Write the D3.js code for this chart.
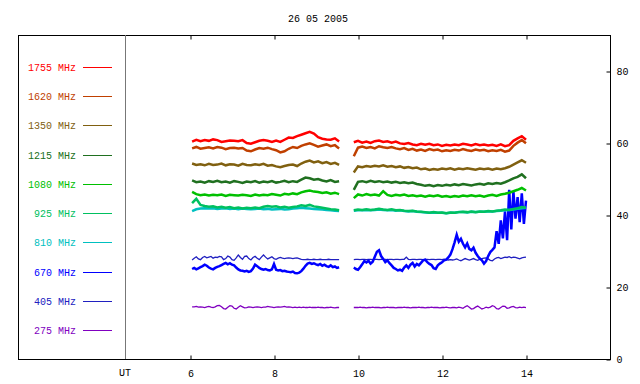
<!DOCTYPE html>
<html>
<head>
<meta charset="utf-8">
<script src="https://cdn.jsdelivr.net/npm/d3@7"></script>
<style>
  html, body { margin: 0; padding: 0; background: #fff; }
  svg { display: block; }
  text { font-family: "Liberation Mono", "DejaVu Sans Mono", monospace; font-size: 10px; }
</style>
</head>
<body>
<svg id="chart" width="640" height="384"></svg>
<script>
/* Radio flux records, 26 05 2005 – one line per frequency */

const TITLE = '26 05 2005';
const FREQS  = ['1755', '1620', '1350', '1215', '1080', '925', '810', '670', '405', '275'];
const COLORS = ['#ff0000', '#c04000', '#806010', '#207020', '#00c000', '#00c060', '#00c0c0', '#0000ff', '#2020c0', '#8000c0'];
const HOUR_TICKS = [6, 8, 10, 12, 14];
const Y_TICKS = [0, 20, 40, 60, 80];

// sampling clocks (UT hours) for the two recording runs
const coarseA = d3.range(36).map(i => 6.05 + i * 0.1);
const coarseB = d3.range(42).map(i => 9.9 + i * 0.1);
const fineA   = d3.range(71).map(i => 6.05 + i * 0.05);
const fineB   = d3.range(83).map(i => 9.9 + i * 0.05);

// --- coarse series, run A (6.05 .. 9.55) ---
const f1755a = [60.4, 60.9, 60.5, 60.8, 60.6, 61.0, 60.8, 60.3, 60.5, 60.7,
                60.6, 60.5, 60.8, 60.0, 59.8, 60.2, 60.6, 60.8, 60.6, 60.3,
                60.7, 60.3, 60.9, 61.5, 61.4, 61.9, 62.3, 62.7, 63.1, 62.6,
                61.6, 61.2, 61.0, 60.9, 61.3, 60.4];
const f1620a = [58.5, 58.9, 58.4, 58.6, 58.8, 58.5, 58.9, 58.7, 58.3, 58.6,
                58.7, 58.5, 58.6, 57.9, 57.7, 58.2, 58.6, 58.4, 58.7, 58.3,
                58.0, 57.4, 57.7, 58.4, 58.9, 58.6, 59.2, 59.6, 59.9, 59.5,
                59.0, 59.3, 59.6, 59.1, 59.4, 58.5];
const f1350a = [54.3, 53.9, 54.1, 53.8, 54.2, 53.9, 54.0, 54.3, 53.8, 54.1,
                54.0, 53.7, 54.2, 53.9, 53.8, 54.1, 53.9, 54.2, 53.7, 53.9,
                53.5, 53.3, 53.6, 53.9, 54.0, 53.6, 54.3, 54.8, 55.1, 54.6,
                54.9, 54.4, 54.7, 54.2, 54.5, 53.9];
const f1215a = [49.6, 49.1, 49.3, 49.0, 49.4, 49.2, 49.5, 49.1, 49.3, 49.0,
                49.4, 49.2, 48.9, 49.3, 49.1, 49.4, 49.0, 49.3, 49.1, 49.4,
                49.0, 49.2, 49.5, 49.1, 49.4, 49.2, 49.8, 50.4, 50.2, 49.8,
                50.0, 49.6, 49.3, 49.7, 49.2, 49.4];
const f1080a = [46.4, 45.8, 45.5, 45.7, 45.4, 45.6, 45.5, 45.7, 45.3, 45.6,
                45.5, 45.4, 45.6, 45.5, 45.3, 45.7, 45.4, 45.6, 45.5, 45.8,
                45.6, 45.4, 45.9, 45.7, 46.0, 45.8, 46.3, 46.6, 46.8, 46.5,
                46.4, 46.1, 46.3, 45.9, 46.2, 45.8];
const f925a  = [43.3, 44.5, 42.8, 42.5, 42.3, 42.4, 42.1, 42.3, 42.0, 42.2,
                41.9, 42.1, 41.8, 42.0, 41.9, 42.1, 41.9, 42.3, 42.5, 42.3,
                42.4, 42.1, 42.3, 42.0, 42.2, 42.4, 42.7, 42.5, 42.8, 42.4,
                42.2, 42.0, 41.8, 41.6, 41.5, 41.3];
const f810a  = [41.1, 41.6, 41.8, 41.9, 41.8, 41.9, 41.7, 41.8, 41.9, 41.7,
                41.8, 41.6, 41.8, 41.7, 41.6, 41.7, 41.8, 41.6, 41.7, 41.5,
                41.6, 41.7, 41.5, 41.6, 41.8, 41.9, 42.0, 41.9, 41.8, 41.7,
                41.6, 41.5, 41.4, 41.3, 41.2, 41.1];

// --- coarse series, run B (9.9 .. 14.0) ---
const f1755b = [60.2,
                60.6, 60.1, 60.4, 60.0, 60.5, 60.7, 60.3, 60.5, 60.1, 60.4,
                59.9, 59.7, 60.0, 59.6, 59.4, 59.8, 59.5, 59.8, 59.4, 59.6,
                59.2, 59.5, 59.3, 59.6, 59.4, 59.8, 59.6, 59.3, 59.7, 59.4,
                59.6, 59.3, 59.5, 59.2, 59.6, 59.1, 59.4, 60.6, 61.3, 61.9,
                60.9];
const f1620b = [56.3,
                58.7, 59.0, 58.6, 58.9, 58.5, 59.1, 58.8, 58.6, 58.9, 58.5,
                58.3, 58.6, 58.1, 58.4, 57.9, 58.2, 57.8, 58.3, 58.0, 58.2,
                57.7, 58.0, 57.8, 58.1, 57.9, 58.3, 58.0, 57.8, 58.2, 57.9,
                58.1, 57.7, 58.0, 57.8, 58.1, 57.6, 57.9, 59.2, 60.1, 60.8,
                59.9];
const f1350b = [51.8,
                53.5, 53.3, 53.6, 53.4, 53.7, 53.5, 53.8, 53.4, 53.6, 53.3,
                53.5, 53.1, 53.3, 53.0, 53.2, 52.7, 52.9, 52.5, 52.8, 52.6,
                52.9, 52.7, 53.0, 52.6, 52.9, 52.7, 53.0, 52.8, 52.6, 52.9,
                52.7, 52.9, 52.6, 52.9, 52.7, 53.0, 53.4, 54.0, 54.6, 55.2,
                54.5];
const f1215b = [47.0,
                49.2, 49.4, 49.1, 49.5, 49.2, 49.4, 49.1, 49.3, 49.0, 49.2,
                48.9, 49.1, 48.8, 49.0, 48.6, 48.4, 48.1, 48.3, 48.0, 48.3,
                48.1, 48.4, 48.2, 48.5, 48.3, 48.6, 48.4, 48.2, 48.5, 48.7,
                48.4, 48.8, 48.6, 48.9, 48.7, 49.1, 49.6, 50.2, 50.6, 51.3,
                50.2];
const f1080b = [44.7,
                45.7, 45.4, 45.8, 45.5, 45.7, 45.4, 46.6, 45.6, 45.3, 45.6,
                45.4, 45.7, 45.3, 45.5, 45.2, 45.4, 45.1, 45.4, 45.2, 45.5,
                45.1, 45.3, 45.0, 45.3, 45.1, 45.4, 45.2, 45.5, 45.2, 45.4,
                45.1, 45.4, 45.6, 45.3, 45.7, 45.9, 46.2, 46.6, 47.0, 47.5,
                46.8];
const f925b  = [41.3,
                41.5, 41.4, 41.6, 41.4, 41.5, 41.7, 41.5, 41.4, 41.6, 41.3,
                41.4, 41.2, 41.1, 41.2, 41.0, 40.9, 40.8, 40.6, 40.8, 40.6,
                40.7, 40.5, 40.7, 40.6, 40.8, 40.9, 40.8, 41.0, 40.8, 41.0,
                40.9, 41.1, 41.0, 41.2, 41.3, 41.5, 41.4, 41.7, 41.9, 42.2,
                42.0];
const f810b  = [41.2,
                41.3, 41.3, 41.4, 41.3, 41.4, 41.5, 41.4, 41.3, 41.4, 41.2,
                41.3, 41.1, 41.0, 41.1, 40.9, 40.8, 40.7, 40.6, 40.7, 40.6,
                40.6, 40.5, 40.6, 40.6, 40.8, 40.8, 40.7, 40.9, 40.8, 40.9,
                40.9, 41.0, 41.0, 41.1, 41.2, 41.3, 41.4, 41.5, 41.7, 41.9,
                42.0];

// --- fine series, run A (6.05 .. 9.55, every 0.05 h) ---
const f670a = [25.0, 25.3, 24.9, 25.2, 25.5, 25.8, 26.2, 25.9, 25.4, 25.1,
               24.9, 25.3, 25.6, 25.8, 26.1, 26.4, 26.7, 26.3, 26.6, 26.2,
               26.0, 25.4, 24.9, 24.6, 24.5, 24.3, 24.5, 24.2, 24.4, 25.1,
               26.2, 25.8, 25.3, 25.0, 24.8, 25.0, 24.7, 24.6, 24.9, 26.4,
               24.8, 24.6, 24.7, 24.4, 24.5, 24.3, 24.2, 24.1, 24.3, 23.9,
               23.8, 24.0, 24.4, 25.1, 25.9, 26.5, 26.7, 26.4, 26.6, 26.3,
               26.1, 26.4, 25.9, 26.2, 25.8, 25.6, 26.0, 25.5, 25.7, 25.3,
               25.5];
const f405a = [27.5, 28.0, 28.4, 27.8, 27.6, 28.2, 28.5, 28.1, 28.3, 28.5,
               28.0, 28.3, 28.2, 28.5, 28.4, 27.6, 27.9, 28.6, 28.3, 27.6,
               27.4, 28.1, 28.9, 28.2, 27.7, 28.5, 28.6, 27.9, 27.5, 28.2,
               28.5, 28.0, 27.6, 28.3, 28.9, 28.3, 27.8, 28.1, 28.4, 27.9,
               27.7, 28.0, 28.2, 28.0, 27.9, 28.0, 28.1, 28.0, 27.9, 28.0,
               28.1, 27.9, 27.7, 27.6, 27.6, 27.7, 27.6, 27.6, 27.7, 27.6,
               27.6, 27.7, 27.6, 27.6, 27.6, 27.7, 27.6, 27.6, 27.6, 27.6,
               27.6];
const f275a = [14.5, 14.5, 14.6, 14.4, 14.5, 14.4, 14.3, 14.5, 14.6, 14.4,
               14.3, 14.5, 14.8, 14.9, 14.5, 14.0, 13.9, 14.4, 14.8, 14.7,
               14.1, 13.9, 14.4, 14.8, 14.5, 14.2, 14.3, 14.5, 14.4, 14.3,
               14.4, 14.5, 14.4, 14.3, 14.4, 14.4, 14.6, 14.5, 14.4, 14.3,
               14.4, 14.5, 14.4, 14.5, 14.6, 14.4, 14.5, 14.4, 14.3, 14.4,
               14.3, 14.4, 14.3, 14.4, 14.3, 14.3, 14.4, 14.3, 14.3, 14.3,
               14.4, 14.3, 14.3, 14.2, 14.3, 14.3, 14.4, 14.3, 14.2, 14.3,
               14.3];

// --- fine series, run B (9.9 .. 14.0, every 0.05 h) ---
const f670b = [25.4, 25.0,
               24.8, 25.5, 26.3, 27.2, 26.8, 27.3, 26.5, 27.0, 28.4, 29.8,
               30.2, 28.6, 27.8, 26.9, 27.4, 26.6, 26.0, 25.3, 25.0, 24.6,
               24.8, 24.5, 25.4, 26.0, 25.3, 26.2, 26.7, 25.7, 26.4, 26.0,
               26.7, 27.4, 27.6, 26.9, 26.4, 26.1, 25.2, 25.0, 26.0, 26.5,
               26.9, 27.4, 27.6, 28.2, 29.0, 30.5, 32.4, 34.5, 32.6, 33.4,
               32.0, 31.0, 32.1, 30.6, 30.2, 30.9, 29.5, 28.6, 27.9, 27.4,
               26.5, 27.2, 28.6, 29.7, 30.3, 31.0, 35.5, 32.0, 38.5, 33.5,
               41.0, 33.0, 47.0, 36.0, 46.5, 39.0, 45.0, 38.0, 46.0, 37.5,
               44.0];
const f405b = [27.6, 27.7,
               27.7, 27.6, 27.7, 27.7, 27.6, 27.7, 27.7, 27.6, 27.7, 27.7,
               27.6, 27.7, 27.7, 27.7, 27.6, 27.7, 27.7, 27.6, 27.7, 27.7,
               27.6, 27.7, 27.7, 28.3, 27.7, 27.6, 27.7, 27.7, 27.6, 27.7,
               27.7, 27.6, 27.7, 27.7, 27.6, 27.7, 27.7, 27.6, 27.7, 27.7,
               27.6, 27.7, 27.6, 27.5, 27.6, 27.5, 27.6, 27.8, 27.5, 27.3,
               27.6, 27.9, 27.7, 27.5, 27.7, 27.9, 27.6, 27.4, 27.7, 27.9,
               28.0, 28.1, 27.8, 27.4, 27.3, 27.8, 28.1, 28.2, 27.9, 28.1,
               28.3, 28.2, 28.4, 28.1, 28.3, 28.2, 28.0, 27.8, 28.1, 28.2,
               28.3];
const f275b = [14.3, 14.3,
               14.3, 14.4, 14.3, 14.3, 14.2, 14.3, 14.3, 14.4, 14.3, 14.3,
               14.3, 14.2, 14.3, 14.3, 14.4, 14.3, 14.3, 14.3, 14.2, 14.3,
               14.3, 14.3, 14.4, 14.3, 14.3, 14.2, 14.3, 14.3, 14.3, 14.4,
               14.3, 14.3, 14.2, 14.3, 14.3, 14.4, 14.3, 14.3, 14.3, 14.2,
               14.3, 14.3, 14.4, 14.3, 14.2, 14.3, 14.3, 14.2, 14.4, 14.3,
               14.1, 14.5, 14.8, 14.4, 13.9, 14.0, 14.4, 14.7, 14.3, 13.9,
               14.1, 14.4, 14.2, 14.4, 14.8, 14.6, 14.0, 13.9, 14.3, 14.7,
               14.6, 14.1, 14.2, 14.5, 14.6, 14.3, 14.2, 14.4, 14.3, 14.4,
               14.3];

// draw order: lower bands first, so 925 sits on 810 and greens on the blue burst
const series = [
  { f: '275',  runs: [[fineA, f275a], [fineB, f275b]],     w: 1.3 },
  { f: '405',  runs: [[fineA, f405a], [fineB, f405b]],     w: 1.3 },
  { f: '670',  runs: [[fineA, f670a], [fineB, f670b]],     w: 2.5 },
  { f: '810',  runs: [[coarseA, f810a], [coarseB, f810b]], w: 2.5 },
  { f: '925',  runs: [[coarseA, f925a], [coarseB, f925b]], w: 2.5 },
  { f: '1080', runs: [[coarseA, f1080a], [coarseB, f1080b]], w: 2.5 },
  { f: '1215', runs: [[coarseA, f1215a], [coarseB, f1215b]], w: 2.5 },
  { f: '1350', runs: [[coarseA, f1350a], [coarseB, f1350b]], w: 2.5 },
  { f: '1620', runs: [[coarseA, f1620a], [coarseB, f1620b]], w: 2.5 },
  { f: '1755', runs: [[coarseA, f1755a], [coarseB, f1755b]], w: 2.5 }
];

const color = d3.scaleOrdinal(FREQS, COLORS);

const svg = d3.select('#chart');
const L = 18, R = 610, T = 35, B = 359;

const x = d3.scaleLinear().domain([6, 14]).range([190, 526]);
const y = d3.scaleLinear().domain([0, 90]).range([B, T]);
const legendY = d3.scalePoint().domain(FREQS).range([67, 330]);

// title
svg.append('text')
  .attr('x', 318).attr('y', 22)
  .attr('text-anchor', 'middle')
  .attr('fill', '#000')
  .text(TITLE);

// frame + UT separator
svg.append('rect')
  .attr('x', L + 0.5).attr('y', T + 0.5)
  .attr('width', R - L).attr('height', B - T)
  .attr('fill', 'none').attr('stroke', '#000');

svg.append('line')
  .attr('x1', 125.5).attr('x2', 125.5)
  .attr('y1', T).attr('y2', B)
  .attr('stroke', '#777');

// axes
const axBottom = svg.append('g')
  .attr('transform', `translate(0.5,${B + 0.5})`)
  .call(d3.axisBottom(x).tickValues(HOUR_TICKS).tickSize(-4).tickPadding(10));

const axTop = svg.append('g')
  .attr('transform', `translate(0.5,${T + 0.5})`)
  .call(d3.axisTop(x).tickValues(HOUR_TICKS).tickSize(-4).tickFormat(''));

const axRight = svg.append('g')
  .attr('transform', `translate(${R + 0.5},0.5)`)
  .call(d3.axisRight(y).tickValues(Y_TICKS).tickSize(-4).tickPadding(6));

[axBottom, axTop, axRight].forEach(g => {
  g.select('.domain').remove();
  g.attr('font-family', null).attr('font-size', null);
  g.selectAll('line').attr('stroke', '#000');
  g.selectAll('text').attr('fill', '#000');
});

svg.append('text')
  .attr('x', 125).attr('y', 376)
  .attr('text-anchor', 'middle')
  .attr('fill', '#000')
  .text('UT');

// legend on the left
const leg = svg.append('g').selectAll('g')
  .data(FREQS).enter()
  .append('g')
  .attr('transform', d => `translate(0,${Math.round(legendY(d))})`);

leg.append('text')
  .attr('x', 76).attr('y', 4)
  .attr('text-anchor', 'end')
  .attr('fill', d => color(d))
  .text(d => d + ' MHz');

leg.append('line')
  .attr('x1', 83).attr('x2', 112)
  .attr('y1', 0.5).attr('y2', 0.5)
  .attr('stroke', d => color(d));

// traces
const line = d3.line()
  .x(d => x(d[0]))
  .y(d => y(d[1]));

const plot = svg.append('g');
series.forEach(s => {
  s.runs.forEach(([ts, vs]) => {
    const pts = ts.map((t, i) => [t, vs[i]]).filter(p => p[1] != null);
    plot.append('path')
      .attr('d', line(pts))
      .attr('fill', 'none')
      .attr('stroke', color(s.f))
      .attr('stroke-width', s.w)
      .attr('stroke-linejoin', 'miter');
  });
});
</script>
</body>
</html>
